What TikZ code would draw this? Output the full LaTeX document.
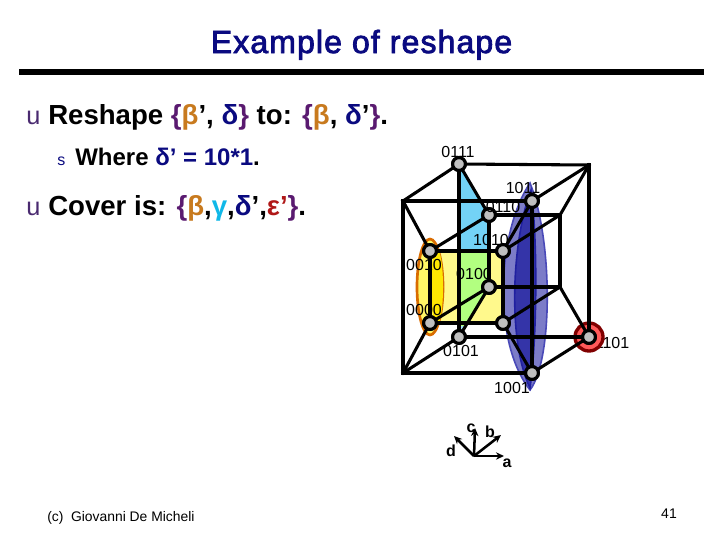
\documentclass[tikz,border=0pt]{standalone}
\usepackage{fontspec}
\setmainfont{Liberation Sans}
\newfontface\titlefont[FakeBold=2.5,LetterSpace=3.5]{Liberation Sans}
\usetikzlibrary{arrows.meta}
\definecolor{navyt}{HTML}{0A0A80}
\definecolor{purp}{HTML}{5A1A70}
\definecolor{orng}{HTML}{C87A1E}
\definecolor{cyn}{HTML}{10B8E8}
\definecolor{redt}{HTML}{B01818}
\definecolor{bull}{HTML}{4A2A70}
\definecolor{lensout}{HTML}{7C7CC8}
\definecolor{lensedge}{HTML}{4A4AB8}
\definecolor{lensin}{HTML}{3434A8}
\definecolor{lensinedge}{HTML}{2020A0}
\newcommand{\fs}[1]{\fontsize{#1}{#1}\selectfont}
\newcommand{\B}[1]{\textcolor{purp}{#1}}
\newcommand{\Db}{\textcolor{navyt}{δ}}
\newcommand{\Bb}{\textcolor{orng}{β}}
\tikzset{
  x=0.75pt,y=-0.75pt,
  vert/.style={circle,draw=black,line width=2.3pt,fill=black!25,minimum size=9.6pt,inner sep=0pt},
  edge/.style={line width=2.3pt,black},
  lab/.style={inner sep=0pt,font=\fs{12}},
  axl/.style={inner sep=0pt,font=\fs{12}\bfseries},
  axis/.style={line width=1.9pt,-{Stealth[length=6pt,width=5.5pt]}},
  txt/.style={inner sep=0pt,anchor=base west,font=\fs{20.7}\bfseries},
  sub/.style={inner sep=0pt,anchor=base west,font=\fs{18}\bfseries},
}
\begin{document}
\begin{tikzpicture}
\useasboundingbox (0,0) rectangle (720,540);
\fill[white] (0,0) rectangle (720,540);
% title
\node[inner sep=0pt,anchor=base,font=\fs{24}\titlefont,text=navyt] (title) at (361.5,53) {Example of reshape};
\fill[black] (19,69) rectangle (704,75);
% text
\node[inner sep=0pt,anchor=base west,font=\fs{19},text=bull] (b1) at (26,124) {u};
\node[txt] (t1) at (48,124) {Reshape \B{\{}\Bb’, \Db\B{\}} to: \B{\{}\Bb, \Db’\B{\}}.};
\node[inner sep=0pt,anchor=base west,font=\fs{12},text=navyt] (b2) at (57,165) {s};
\node[sub] (t2) at (75,165) {Where \textcolor{navyt}{δ’ = 10*1}.};
\node[inner sep=0pt,anchor=base west,font=\fs{19},text=bull] (b3) at (26,215) {u};
\node[txt] (t3) at (48,215) {Cover is: \B{\{}\Bb,\textcolor{cyn}{γ},\Db’,\textcolor{redt}{ε’}\B{\}}.};
% fills
\fill[yellow!45!white] (430,251) rectangle (503,323);
\fill[cyan!55!white] (459,164) -- (489,215) -- (489,251) -- (459,251) -- cycle;
\fill[green!60!yellow!50!white] (459,251) -- (489,251) -- (489,287) -- (459,337) -- cycle;
\fill[cyan!35!white] (459,337) -- (459,326) -- (466,326) -- cycle;
\draw[orange!85!black,line width=2pt,fill=yellow!60!white] (430,287) ellipse [x radius=13,y radius=48];
\fill[yellow!90!orange] (437,287) ellipse [x radius=6,y radius=38];
\draw[lensedge,line width=1.2pt,fill=lensout] (530,183) .. controls (498,230) and (491,340) .. (530,390) .. controls (553,360) and (553,240) .. cycle;
\draw[lensinedge,line width=1.2pt,fill=lensin] (531,190) .. controls (512,240) and (507,340) .. (530,388) .. controls (537,340) and (538,240) .. cycle;
\node[lab] (l1101) at (612,343) {1101};
\draw[red!50!black,line width=2.5pt,fill=red!65!white] (589,337) circle [radius=14];
% corners without dots
\coordinate (c1) at (589,165);
\coordinate (c2) at (403,201);
\coordinate (c3) at (560,215);
\coordinate (c4) at (560,287);
\coordinate (c5) at (403,373);
% vertices
\node[vert] (v0111) at (459,164) {};
\node[vert] (v1011) at (532,201) {};
\node[vert] (v0110) at (489,215) {};
\node[vert] (v0010) at (430,251) {};
\node[vert] (v1010) at (503,251) {};
\node[vert] (v0100) at (489,287) {};
\node[vert] (v0000) at (430,323) {};
\node[vert] (v1000) at (503,323) {};
\node[vert] (v0101) at (459,337) {};
\node[vert] (v1101) at (589,337) {};
\node[vert] (v1001) at (532,373) {};
% edges
\begin{scope}[edge,line cap=rect]
\draw (v0111) -- (c1);
\draw (c2) -- (v1011);
\draw (c5) -- (v1001);
\draw (v0101) -- (v1101);
\draw (c2) -- (c5);
\draw (v0111) -- (v0101);
\draw (v1011) -- (v1001);
\draw (c1) -- (v1101);
\draw (v0111) -- (c2);
\draw (c1) -- (v1011);
\draw (c5) -- (v0101);
\draw (v1001) -- (v1101);
\draw (v0010) -- (v1010);
\draw (v0110) -- (c3);
\draw (v0000) -- (v1000);
\draw (v0100) -- (c4);
\draw (v0010) -- (v0000);
\draw (v1010) -- (v1000);
\draw (v0110) -- (v0100);
\draw (c3) -- (c4);
\draw (v0010) -- (v0110);
\draw (v1010) -- (c3);
\draw (v0000) -- (v0100);
\draw (v1000) -- (c4);
\draw (c2) -- (v0010);
\draw (v0111) -- (v0110);
\draw (v1011) -- (v1010);
\draw (c1) -- (c3);
\draw (c5) -- (v0000);
\draw (v0101) -- (v0100);
\draw (v1001) -- (v1000);
\draw (v1101) -- (c4);
\end{scope}
% redraw dots on top
\foreach \p in {v0111,v1011,v0110,v0010,v1010,v0100,v0000,v1000,v0101,v1101,v1001}
  \node[vert] at (\p) {};
% labels
\node[lab] (l0111) at (458,152) {0111};
\node[lab] (l1011) at (523,188) {1011};
\node[lab] (l0110) at (503,207) {0110};
\node[lab] (l1010) at (491,240) {1010};
\node[lab] (l0010) at (424,265) {0010};
\node[lab] (l0100) at (474,274) {0100};
\node[lab] (l0000) at (424,310) {0000};
\node[lab] (l0101) at (461,351) {0101};
\node[lab] (l1001) at (512,388) {1001};
% axes
\coordinate (o) at (474,456);
\coordinate (ea) at (504,456);
\coordinate (eb) at (501,435);
\coordinate (ec) at (475,428);
\coordinate (ed) at (454,436);
\draw[axis] (o) -- (ea);
\draw[axis] (o) -- (eb);
\draw[axis] (o) -- (ec);
\draw[axis] (o) -- (ed);
\node[axl] (la) at (507,463) {a};
\node[axl] (lb) at (490,432) {b};
\node[axl] (lc) at (471,428) {c};
\node[axl] (ld) at (451,451) {d};
% footer
\node[inner sep=0pt,anchor=base west,font=\fs{10.4}] (foot) at (47,521) {(c)\ \ Giovanni De Micheli};
\node[inner sep=0pt,anchor=base,font=\fs{10.5}] (page) at (669,518) {41};
\end{tikzpicture}
\end{document}
